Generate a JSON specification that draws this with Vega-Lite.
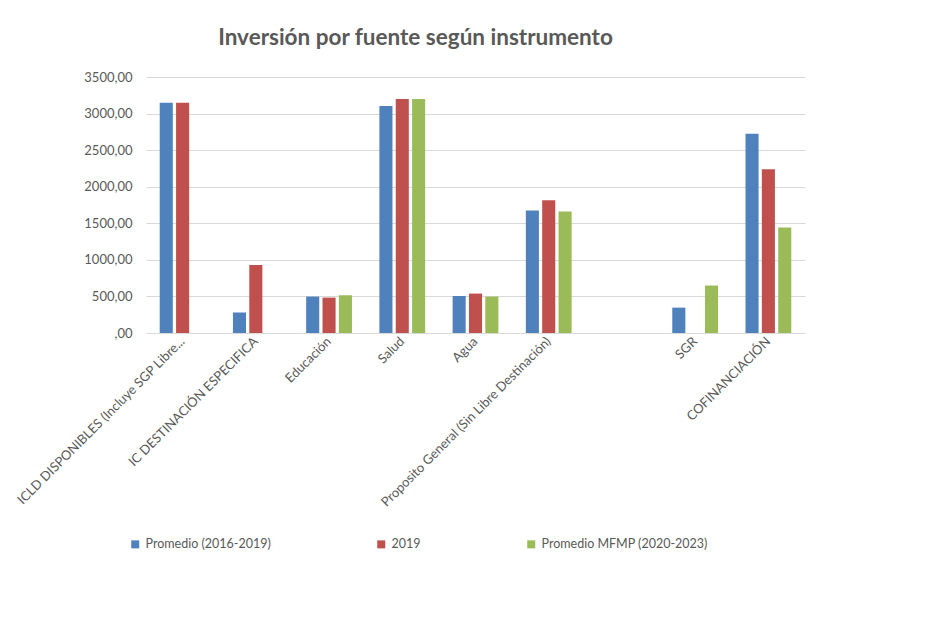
{
  "$schema": "https://vega.github.io/schema/vega-lite/v6.json",
  "width": 659,
  "height": 256,
  "autosize": {"type": "none"},
  "padding": {"left": 146, "top": 77, "right": 135, "bottom": 292},
  "background": "white",
  "title": {
    "text": "Inversión por fuente según instrumento",
    "font": "Lato",
    "fontSize": 22.5,
    "fontWeight": "bold",
    "color": "#595959",
    "anchor": "middle",
    "dx": -60,
    "offset": 22
  },
  "data": {
    "values": [
      {"fuente": "ICLD DISPONIBLES (Incluye SGP Libre...", "serie": "Promedio (2016-2019)", "valor": 3148},
      {"fuente": "ICLD DISPONIBLES (Incluye SGP Libre...", "serie": "2019", "valor": 3148},
      {"fuente": "IC DESTINACIÓN ESPECIFICA", "serie": "Promedio (2016-2019)", "valor": 279},
      {"fuente": "IC DESTINACIÓN ESPECIFICA", "serie": "2019", "valor": 931},
      {"fuente": "Educación", "serie": "Promedio (2016-2019)", "valor": 498},
      {"fuente": "Educación", "serie": "2019", "valor": 484},
      {"fuente": "Educación", "serie": "Promedio MFMP (2020-2023)", "valor": 516},
      {"fuente": "Salud", "serie": "Promedio (2016-2019)", "valor": 3103},
      {"fuente": "Salud", "serie": "2019", "valor": 3199},
      {"fuente": "Salud", "serie": "Promedio MFMP (2020-2023)", "valor": 3199},
      {"fuente": "Agua", "serie": "Promedio (2016-2019)", "valor": 506},
      {"fuente": "Agua", "serie": "2019", "valor": 539},
      {"fuente": "Agua", "serie": "Promedio MFMP (2020-2023)", "valor": 498},
      {"fuente": "Proposito General (Sin Libre Destinación)", "serie": "Promedio (2016-2019)", "valor": 1675},
      {"fuente": "Proposito General (Sin Libre Destinación)", "serie": "2019", "valor": 1816},
      {"fuente": "Proposito General (Sin Libre Destinación)", "serie": "Promedio MFMP (2020-2023)", "valor": 1661},
      {"fuente": "SGR", "serie": "Promedio (2016-2019)", "valor": 347},
      {"fuente": "SGR", "serie": "Promedio MFMP (2020-2023)", "valor": 649},
      {"fuente": "COFINANCIACIÓN", "serie": "Promedio (2016-2019)", "valor": 2724},
      {"fuente": "COFINANCIACIÓN", "serie": "2019", "valor": 2240},
      {"fuente": "COFINANCIACIÓN", "serie": "Promedio MFMP (2020-2023)", "valor": 1443}
    ]
  },
  "mark": {"type": "bar"},
  "encoding": {
    "x": {
      "field": "fuente",
      "type": "nominal",
      "scale": {
        "domain": ["ICLD DISPONIBLES (Incluye SGP Libre...", "IC DESTINACIÓN ESPECIFICA", "Educación", "Salud", "Agua", "Proposito General (Sin Libre Destinación)", " ", "SGR", "COFINANCIACIÓN"],
        "paddingInner": 0.33,
        "paddingOuter": 0.165
      },
      "axis": {
        "title": null,
        "labelAngle": -45,
        "labelAlign": "right",
        "labelBaseline": "middle",
        "labelFont": "Lato",
        "labelFontSize": 13,
        "labelColor": "#595959",
        "labelLimit": 400,
        "labelPadding": 6,
        "ticks": false,
        "domainColor": "#d9d9d9",
        "domainWidth": 1
      }
    },
    "xOffset": {
      "field": "serie",
      "type": "nominal",
      "scale": {"domain": ["Promedio (2016-2019)", "2019", "Promedio MFMP (2020-2023)"], "paddingInner": 0.2, "paddingOuter": 0.1}
    },
    "y": {
      "field": "valor",
      "type": "quantitative",
      "scale": {"domain": [0, 3500], "nice": false},
      "axis": {
        "title": null,
        "values": [0, 500, 1000, 1500, 2000, 2500, 3000, 3500],
        "labelExpr": "datum.value == 0 ? ',00' : replace(format(datum.value, '.2f'), '.', ',')",
        "labelFont": "Lato",
        "labelFontSize": 13,
        "labelColor": "#595959",
        "labelPadding": 14,
        "ticks": false,
        "domain": false,
        "gridColor": "#d9d9d9",
        "gridWidth": 1
      }
    },
    "color": {
      "field": "serie",
      "type": "nominal",
      "scale": {
        "domain": ["Promedio (2016-2019)", "2019", "Promedio MFMP (2020-2023)"],
        "range": ["#4f81bd", "#c0504d", "#9bbb59"]
      },
      "legend": {
        "title": null,
        "orient": "none",
        "direction": "horizontal",
        "legendX": -17,
        "legendY": 461,
        "symbolType": "square",
        "symbolSize": 64,
        "symbolStrokeWidth": 0,
        "labelFont": "Lato",
        "labelFontSize": 12.5,
        "labelColor": "#595959",
        "labelOffset": 4,
        "labelLimit": 300,
        "columnPadding": 104
      }
    }
  },
  "config": {"view": {"stroke": null}}
}
